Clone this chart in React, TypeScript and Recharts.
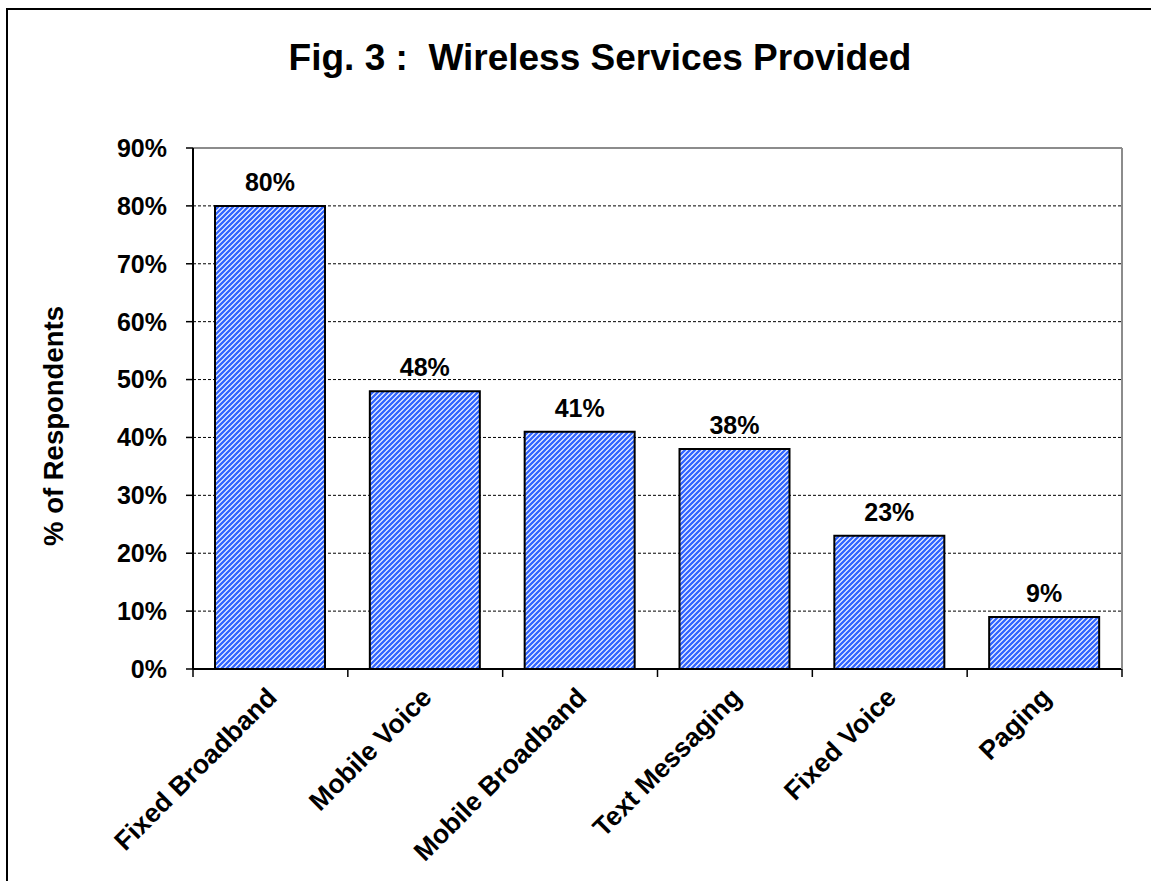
import { Bar, BarChart, CartesianGrid, Customized, LabelList, ReferenceLine, XAxis, YAxis } from "recharts";

const categories = [
  "Fixed Broadband",
  "Mobile Voice",
  "Mobile Broadband",
  "Text Messaging",
  "Fixed Voice",
  "Paging",
];
const shares = [80, 48, 41, 38, 23, 9];
const yTicks = [0, 10, 20, 30, 40, 50, 60, 70, 80, 90];

const data = categories.map((name, i) => ({ name, value: shares[i] }));

const FONT = "'Liberation Sans', Arial, sans-serif";
const W = 1151;
const H = 881;
const X_AXIS_H = 150;
const Y_AXIS_W = 80;
const margin = { top: 148, right: 29, left: 113, bottom: 62 };
const band = (W - margin.left - margin.right - Y_AXIS_W) / categories.length;
const plotH = H - margin.top - margin.bottom - X_AXIS_H;

function XTick(props: any) {
  const { x, y, payload, index } = props;
  const ax = x + 8;
  const ay = y + 30;
  const last = index === categories.length - 1;
  return (
    <g>
      <line x1={x - band / 2} y1={y} x2={x - band / 2} y2={y + 8} stroke="#000" strokeWidth={1.5} />
      {last && (
        <>
          <line x1={x + band / 2} y1={y} x2={x + band / 2} y2={y + 8} stroke="#000" strokeWidth={1.5} />
          {/* right border of the plot area */}
          <line x1={x + band / 2} y1={y} x2={x + band / 2} y2={y - plotH} stroke="#8c8c8c" strokeWidth={2} />
        </>
      )}
      <text
        x={ax}
        y={ay}
        transform={`rotate(-45, ${ax}, ${ay})`}
        textAnchor="end"
        fontFamily={FONT}
        fontWeight="bold"
        fontSize={26.5}
        fill="#000"
      >
        {payload.value}
      </text>
    </g>
  );
}

function Title() {
  return (
    <text x={600} y={70} textAnchor="middle" fontFamily={FONT} fontWeight="bold" fontSize={37} fill="#000" style={{ whiteSpace: "pre" }}>
      {"Fig. 3 :  Wireless Services Provided"}
    </text>
  );
}

export default function App() {
  return (
    <div style={{ position: "absolute", left: 0, top: 0, width: W, height: H, overflow: "hidden", background: "#fff" }}>
      <div
        style={{
          position: "absolute",
          left: 6,
          top: 8,
          width: W + 20,
          height: H + 20,
          borderLeft: "2px solid #000",
          borderTop: "2px solid #000",
        }}
      />
      <div style={{ position: "absolute", left: 0, top: 0 }}>
        <BarChart width={W} height={H} data={data} margin={margin}>
          <defs>
            <pattern id="stripes" patternUnits="userSpaceOnUse" width={5} height={5}>
              <rect width={5} height={5} fill="#fff" />
              <path d="M-1,1 l2,-2 M0,5 l5,-5 M4,6 l2,-2" stroke="#3366ff" strokeWidth={2.4} />
            </pattern>
          </defs>
          <CartesianGrid vertical={false} stroke="#000" strokeDasharray="3 2" strokeWidth={1} />
          <XAxis
            dataKey="name"
            height={X_AXIS_H}
            tickSize={0}
            tickMargin={0}
            tickLine={false}
            interval={0}
            axisLine={{ stroke: "#000", strokeWidth: 2 }}
            tick={<XTick />}
          />
          <YAxis
            width={Y_AXIS_W}
            domain={[0, 90]}
            ticks={yTicks}
            interval={0}
            tickFormatter={(v: number) => `${v}%`}
            tickSize={7}
            tickMargin={19}
            tickLine={{ stroke: "#000", strokeWidth: 1.5 }}
            axisLine={{ stroke: "#000", strokeWidth: 2 }}
            tick={{ fontFamily: FONT, fontWeight: "bold", fontSize: 25, fill: "#000" }}
            label={{
              content: () => (
                <text x={63} y={426} transform="rotate(-90, 63, 426)" textAnchor="middle" fontFamily={FONT} fontWeight="bold" fontSize={27.5} fill="#000">
                  % of Respondents
                </text>
              ),
            }}
          />
          <ReferenceLine y={90} stroke="#8c8c8c" strokeWidth={2} />
          <Bar dataKey="value" fill="url(#stripes)" stroke="#000" strokeWidth={2} barSize={110} isAnimationActive={false}>
            <LabelList
              dataKey="value"
              position="top"
              offset={15}
              formatter={(v: any) => `${v}%`}
              style={{ fontFamily: FONT, fontWeight: "bold", fontSize: 25, fill: "#000" }}
            />
          </Bar>
          <Customized component={Title} />
        </BarChart>
      </div>
    </div>
  );
}
